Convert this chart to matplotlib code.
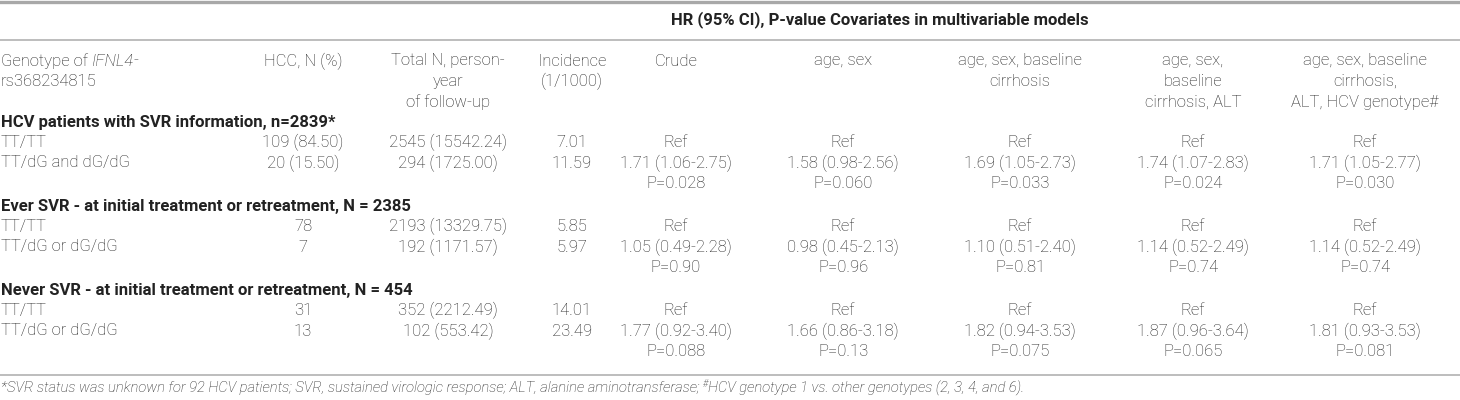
import matplotlib
matplotlib.use("Agg")
import matplotlib.pyplot as plt
from matplotlib.lines import Line2D

plt.rcParams['font.family'] = ['Roboto', 'DejaVu Sans']

# ---- table content ----
span_title = "HR (95% CI), P-value Covariates in multivariable models"
col_heads = ["HCC, N (%)", "Total N, person-\nyear\nof follow-up", "Incidence\n(1/1000)",
             "Crude", "age, sex", "age, sex, baseline\ncirrhosis",
             "age, sex,\nbaseline\ncirrhosis, ALT", "age, sex, baseline\ncirrhosis,\nALT, HCV genotype#"]
sections = ["HCV patients with SVR information, n=2839*",
            "Ever SVR - at initial treatment or retreatment, N = 2385",
            "Never SVR - at initial treatment or retreatment, N = 454"]
genotypes = [["TT/TT", "TT/dG and dG/dG"],
             ["TT/TT", "TT/dG or dG/dG"],
             ["TT/TT", "TT/dG or dG/dG"]]
hcc = [["109 (84.50)", "20 (15.50)"], ["78", "7"], ["31", "13"]]
total = [["2545 (15542.24)", "294 (1725.00)"],
         ["2193 (13329.75)", "192 (1171.57)"],
         ["352 (2212.49)", "102 (553.42)"]]
incidence = [["7.01", "11.59"], ["5.85", "5.97"], ["14.01", "23.49"]]
hr = [["1.71 (1.06-2.75)", "1.58 (0.98-2.56)", "1.69 (1.05-2.73)", "1.74 (1.07-2.83)", "1.71 (1.05-2.77)"],
      ["1.05 (0.49-2.28)", "0.98 (0.45-2.13)", "1.10 (0.51-2.40)", "1.14 (0.52-2.49)", "1.14 (0.52-2.49)"],
      ["1.77 (0.92-3.40)", "1.66 (0.86-3.18)", "1.82 (0.94-3.53)", "1.87 (0.96-3.64)", "1.81 (0.93-3.53)"]]
pvals = [["P=0.028", "P=0.060", "P=0.033", "P=0.024", "P=0.030"],
         ["P=0.90", "P=0.96", "P=0.81", "P=0.74", "P=0.74"],
         ["P=0.088", "P=0.13", "P=0.075", "P=0.065", "P=0.081"]]
foot1 = "*SVR status was unknown for 92 HCV patients; SVR, sustained virologic response; ALT, alanine aminotransferase; "
foot2 = "HCV genotype 1 vs. other genotypes (2, 3, 4, and 6)."

# ---- layout (pixels) ----
W, H = 1460, 400
col_x = [303, 448, 572, 676, 843, 1020, 1193, 1365]
pitch = 20.5
txt = '#222222'
line_c = '#bdbdbd'
fs = 12
fw = 'light'

fig = plt.figure(figsize=(W / 100, H / 100), dpi=100)
ax = fig.add_axes([0, 0, 1, 1])
ax.set_xlim(0, W)
ax.set_ylim(H, 0)
ax.axis('off')


def hline(y, lw, c=line_c):
    ax.add_line(Line2D([0, W], [y, y], color=c, lw=lw))


def put(x, y, s, ha='center', **kw):
    kw.setdefault('fontweight', fw)
    kw.setdefault('fontsize', fs)
    ax.text(x, y, s, ha=ha, va='center', color=txt, **kw)


def pieces(x, y, parts):
    # draw a run of text pieces one after another
    r = fig.canvas.get_renderer()
    for s, kw in parts:
        kw = dict(kw)
        kw.setdefault('fontweight', fw)
        kw.setdefault('fontsize', fs)
        dy = kw.pop('dy', 0)
        t = ax.text(x, y + dy, s, ha='left', va='center', color=txt, **kw)
        bb = t.get_window_extent(renderer=r)
        x += bb.width


hline(1.5, 2.4, '#a8a8a8')
hline(40, 1.4)
hline(375, 1.4)

put(880, 20, span_title, fontweight='bold')

# header row
y0 = 61
pieces(1, y0, [("Genotype of ", {}), ("IFNL4", {'fontstyle': 'italic'}), ("-", {})])
put(1, y0 + pitch, "rs368234815", ha='left')
for x, h in zip(col_x, col_heads):
    for k, ln in enumerate(h.split("\n")):
        put(x, y0 + k * pitch, ln)

# body
y = 122
for si, title in enumerate(sections):
    put(1, y, title, ha='left', fontweight='bold')
    for ri in range(2):
        yy = y + (ri + 1) * pitch
        put(1, yy, genotypes[si][ri], ha='left')
        put(col_x[0], yy, hcc[si][ri])
        put(col_x[1], yy, total[si][ri])
        put(col_x[2], yy, incidence[si][ri])
        for m in range(5):
            put(col_x[3 + m], yy, "Ref" if ri == 0 else hr[si][m])
    for m in range(5):
        put(col_x[3 + m], y + 3 * pitch, pvals[si][m])
    y += 4 * pitch + 2

# footnote
pieces(1, 388, [(foot1, {'fontstyle': 'italic', 'fontsize': 10.6}),
                ("#", {'fontstyle': 'italic', 'fontsize': 7, 'dy': -4}),
                (foot2, {'fontstyle': 'italic', 'fontsize': 10.6})])

fig.savefig("out.png", dpi=100)
